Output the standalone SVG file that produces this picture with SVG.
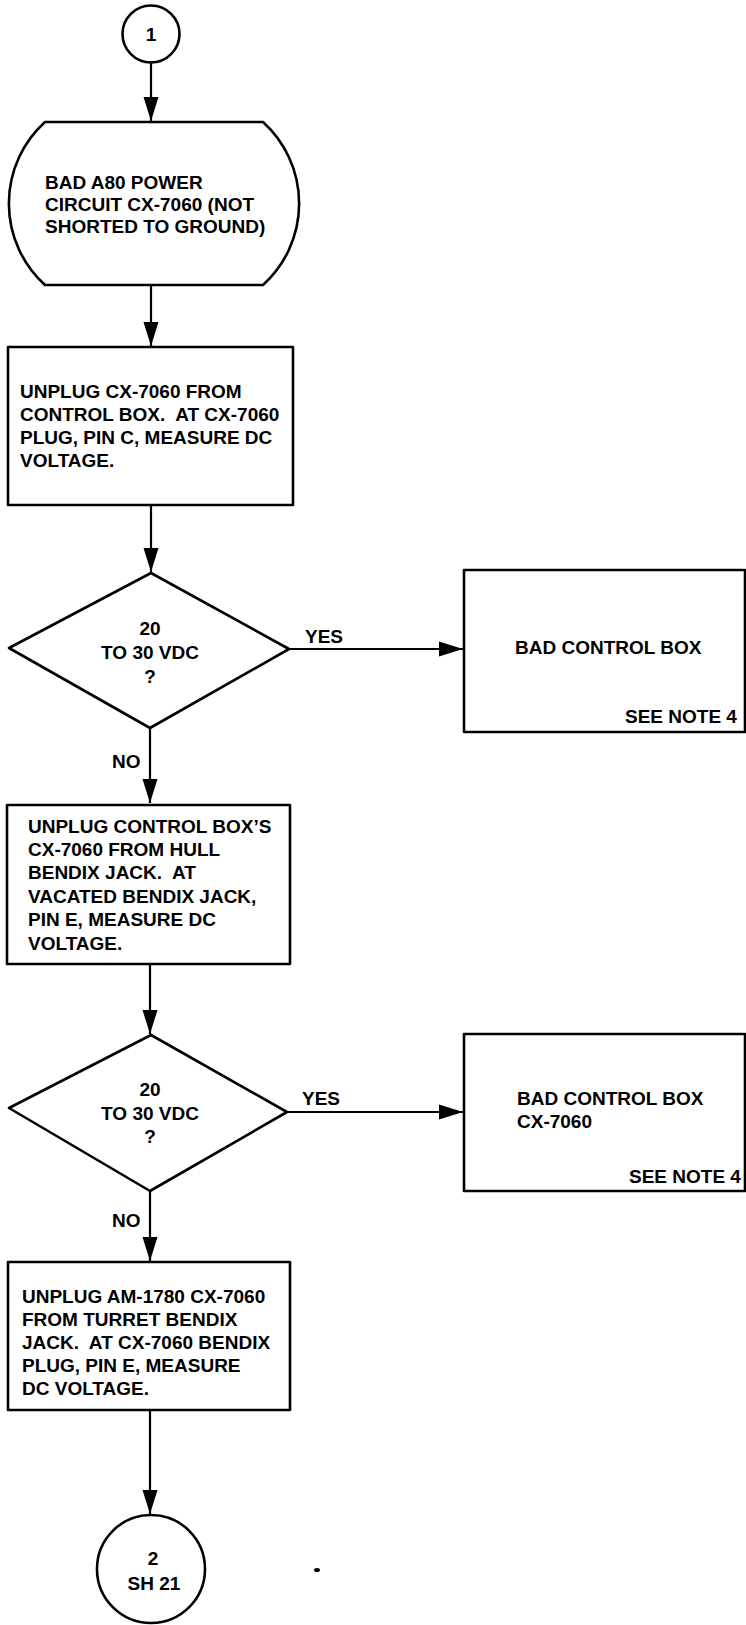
<svg xmlns="http://www.w3.org/2000/svg" width="746" height="1625" viewBox="0 0 746 1625">
<style>
  .shape { fill: #ffffff; stroke: #000000; stroke-width: 2.6; stroke-linejoin: round; }
  .conn { fill: none; stroke: #000000; stroke-width: 2.2; }
  .t { font-family: "Liberation Sans", Arial, sans-serif; font-weight: bold; font-size: 19px; fill: #000000; white-space: pre; }
  .c { text-anchor: middle; }
</style>
<defs>
  <marker id="arr" markerUnits="userSpaceOnUse" markerWidth="24" markerHeight="18" viewBox="0 0 24 18" refX="24" refY="9" orient="auto">
    <polygon points="0,1.5 24,9 0,16.5" fill="#000000"/>
  </marker>
</defs>
<rect x="0" y="0" width="746" height="1625" fill="#ffffff"/>

<g id="connectors">
  <line class="conn" x1="151" y1="63" x2="151" y2="121" marker-end="url(#arr)"/>
  <line class="conn" x1="151" y1="285" x2="151" y2="346" marker-end="url(#arr)"/>
  <line class="conn" x1="151" y1="505" x2="151" y2="572" marker-end="url(#arr)"/>
  <line class="conn" x1="289" y1="649" x2="463" y2="649" marker-end="url(#arr)"/>
  <line class="conn" x1="150" y1="728" x2="150" y2="803" marker-end="url(#arr)"/>
  <line class="conn" x1="150" y1="964" x2="150" y2="1034" marker-end="url(#arr)"/>
  <line class="conn" x1="287" y1="1112" x2="463" y2="1112" marker-end="url(#arr)"/>
  <line class="conn" x1="150" y1="1191" x2="150" y2="1261" marker-end="url(#arr)"/>
  <line class="conn" x1="150" y1="1410" x2="150" y2="1514" marker-end="url(#arr)"/>
  <text class="t" x="305" y="643">YES</text>
  <text class="t" x="112" y="768">NO</text>
  <text class="t" x="302" y="1105">YES</text>
  <text class="t" x="112" y="1227">NO</text>
</g>

<g id="start1">
  <circle class="shape" cx="151" cy="34" r="28.5"/>
  <text class="t c" x="151" y="41">1</text>
</g>

<g id="terminal">
  <path class="shape" d="M45,122 H263 A110,110 0 0 1 263,285 H45 A110,110 0 0 1 45,122 Z"/>
  <text class="t" x="45" y="189">BAD A80 POWER</text>
  <text class="t" x="45" y="211">CIRCUIT CX-7060 (NOT</text>
  <text class="t" x="45" y="233">SHORTED TO GROUND)</text>
</g>

<g id="step1">
  <rect class="shape" x="8" y="347" width="285" height="158"/>
  <text class="t" x="20" y="398">UNPLUG CX-7060 FROM</text>
  <text class="t" x="20" y="421">CONTROL BOX.  AT CX-7060</text>
  <text class="t" x="20" y="444">PLUG, PIN C, MEASURE DC</text>
  <text class="t" x="20" y="467">VOLTAGE.</text>
</g>

<g id="decision1">
  <polygon class="shape" points="151,573 289,649 150,728 9,648"/>
  <text class="t c" x="150" y="635">20</text>
  <text class="t c" x="150" y="659">TO 30 VDC</text>
  <text class="t c" x="150" y="683">?</text>
</g>

<g id="result1">
  <rect class="shape" x="464" y="570" width="281" height="162"/>
  <text class="t" x="515" y="654">BAD CONTROL BOX</text>
  <text class="t" x="625" y="723">SEE NOTE 4</text>
</g>

<g id="step2">
  <rect class="shape" x="7" y="805" width="283" height="159"/>
  <text class="t" x="28" y="833">UNPLUG CONTROL BOX’S</text>
  <text class="t" x="28" y="856">CX-7060 FROM HULL</text>
  <text class="t" x="28" y="879">BENDIX JACK.  AT</text>
  <text class="t" x="28" y="903">VACATED BENDIX JACK,</text>
  <text class="t" x="28" y="926">PIN E, MEASURE DC</text>
  <text class="t" x="28" y="950">VOLTAGE.</text>
</g>

<g id="decision2">
  <polygon class="shape" points="151,1035 287,1112 150,1191 9,1108"/>
  <text class="t c" x="150" y="1096">20</text>
  <text class="t c" x="150" y="1120">TO 30 VDC</text>
  <text class="t c" x="150" y="1143">?</text>
</g>

<g id="result2">
  <rect class="shape" x="464" y="1034" width="281" height="157"/>
  <text class="t" x="517" y="1105">BAD CONTROL BOX</text>
  <text class="t" x="517" y="1128">CX-7060</text>
  <text class="t" x="629" y="1183">SEE NOTE 4</text>
</g>

<g id="step3">
  <rect class="shape" x="8" y="1262" width="282" height="148"/>
  <text class="t" x="22" y="1303">UNPLUG AM-1780 CX-7060</text>
  <text class="t" x="22" y="1326">FROM TURRET BENDIX</text>
  <text class="t" x="22" y="1349">JACK.  AT CX-7060 BENDIX</text>
  <text class="t" x="22" y="1372">PLUG, PIN E, MEASURE</text>
  <text class="t" x="22" y="1395">DC VOLTAGE.</text>
</g>

<g id="end2">
  <circle class="shape" cx="151" cy="1569" r="54"/>
  <text class="t c" x="153" y="1565">2</text>
  <text class="t c" x="154" y="1590">SH 21</text>
</g>

<ellipse cx="317" cy="1570" rx="3" ry="2" fill="#000000"/>
</svg>
